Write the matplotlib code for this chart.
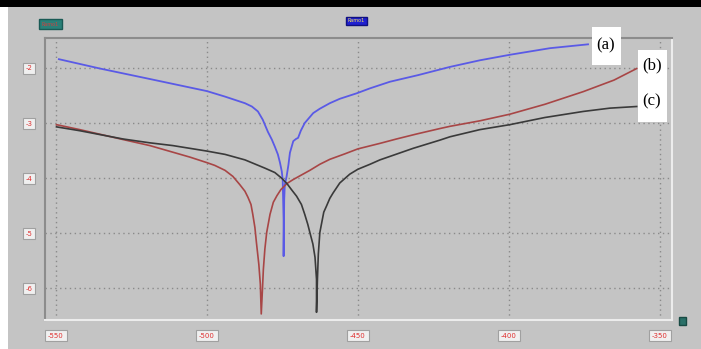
import numpy as np
import matplotlib.pyplot as plt
from matplotlib.patches import Rectangle

# curve (a) - blue
xa = [-549.0, -535.4, -518.9, -500.0, -494.0, -487.4, -485.1, -483.1, -481.5, -479.8,
      -478.5, -477.5, -476.5, -475.8, -475.2, -474.9, -474.6, -474.6, -474.4, -474.2,
      -473.6, -473.0, -472.5, -471.4, -470.5, -469.8, -468.9, -467.6, -464.8, -462.6,
      -459.3, -456.0, -450.4, -446.0, -439.4, -430.1, -419.5, -409.6, -399.7, -386.4,
      -373.8]
ya = [-1.84, -2.01, -2.20, -2.42, -2.52, -2.64, -2.70, -2.79, -2.94, -3.16,
      -3.30, -3.43, -3.57, -3.72, -3.88, -4.03, -4.75, -5.42, -4.39, -4.12,
      -3.97, -3.76, -3.54, -3.33, -3.29, -3.27, -3.14, -3.00, -2.82, -2.74,
      -2.64, -2.56, -2.46, -2.37, -2.25, -2.13, -1.98, -1.86, -1.76, -1.64,
      -1.57]

# curve (b) - red
xb = [-549.8, -542.1, -527.8, -518.9, -511.3, -505.6, -500.0, -497.4, -494.0, -491.4,
      -489.1, -487.4, -486.4, -485.4, -484.8, -484.1, -483.6, -482.8, -482.3, -482.0,
      -481.6, -481.3, -480.8, -480.2, -479.1, -478.0, -476.8, -475.5, -473.5, -471.5,
      -469.2, -465.9, -462.6, -459.3, -454.3, -450.0, -442.7, -437.2, -430.6, -422.8,
      -419.5, -409.6, -399.7, -388.1, -375.4, -365.2, -357.7]
yb = [-3.03, -3.12, -3.30, -3.41, -3.53, -3.62, -3.72, -3.77, -3.86, -3.97,
      -4.12, -4.24, -4.35, -4.48, -4.66, -4.90, -5.17, -5.57, -5.93, -6.47,
      -6.02, -5.66, -5.29, -4.99, -4.66, -4.44, -4.32, -4.21, -4.10, -4.03,
      -3.96, -3.86, -3.75, -3.66, -3.56, -3.47, -3.37, -3.29, -3.20, -3.10,
      -3.06, -2.96, -2.84, -2.66, -2.43, -2.22, -2.01]

# curve (c) - black
xc = [-549.8, -542.1, -527.8, -518.9, -511.3, -500.0, -494.0, -487.4, -480.8, -477.5,
      -475.3, -473.5, -472.0, -470.3, -468.7, -467.6, -466.6, -465.9, -464.9, -464.2,
      -463.7, -463.7, -463.4, -463.1, -462.6, -461.9, -461.3, -460.4, -459.3, -458.2,
      -456.0, -452.7, -450.0, -446.0, -442.7, -431.7, -422.8, -419.5, -409.6, -399.7,
      -388.1, -375.4, -366.6, -357.7]
yc = [-3.07, -3.14, -3.29, -3.36, -3.41, -3.51, -3.57, -3.67, -3.82, -3.90,
      -4.00, -4.10, -4.21, -4.33, -4.48, -4.66, -4.84, -4.99, -5.20, -5.44,
      -5.84, -6.44, -5.84, -5.38, -4.99, -4.79, -4.62, -4.51, -4.37, -4.27,
      -4.09, -3.93, -3.84, -3.75, -3.67, -3.46, -3.31, -3.25, -3.12, -3.03,
      -2.90, -2.79, -2.73, -2.70]

xticks = [-550, -500, -450, -400, -350]
yticks = [-2, -3, -4, -5, -6]

W, H = 701, 349
bg = '#c4c4c4'
fig = plt.figure(figsize=(W / 100, H / 100), dpi=100, facecolor=bg)

def fx(px):
    return px / W

def fy(py):
    return 1 - py / H

# black strip on top, white strip at left
fig.patches.append(Rectangle((0, fy(7)), 1, 7 / H, transform=fig.transFigure,
                             facecolor='black', edgecolor='none'))
fig.patches.append(Rectangle((0, 0), fx(8), fy(7), transform=fig.transFigure,
                             facecolor='white', edgecolor='none'))

ax = fig.add_axes([fx(45), fy(320), fx(672) - fx(45), fy(38) - fy(320)])
ax.set_facecolor(bg)
ax.plot(xa, ya, color='#5a5ae6', lw=1.3)
ax.plot(xb, yb, color='#a84646', lw=1.2)
ax.plot(xc, yc, color='#3a3a3a', lw=1.2)

ax.set_xlim(-553.6, -346.0)
ax.set_ylim(-6.58, -1.455)
ax.set_xticks(xticks)
ax.set_yticks(yticks)
ax.set_xticklabels([str(t) for t in xticks])
ax.set_yticklabels([str(t) for t in yticks])
ax.grid(True, color='#8a8a8a', ls=(0, (1, 2.5)), lw=1)
ax.tick_params(length=0, labelsize=5, labelcolor='#e03030')
ax.tick_params(axis='x', pad=9)
ax.tick_params(axis='y', pad=9)
for lbl in ax.get_xticklabels() + ax.get_yticklabels():
    lbl.set_bbox(dict(boxstyle='square,pad=0.4', facecolor='#f0f0f0',
                      edgecolor='#a0a0a0', lw=0.8))

for s in ['top', 'left']:
    ax.spines[s].set_color('#8c8c8c')
    ax.spines[s].set_linewidth(1.5)
for s in ['bottom', 'right']:
    ax.spines[s].set_color('#ececec')
    ax.spines[s].set_linewidth(1.5)

# legend-like boxes of the software
fig.text(fx(50.5), fy(24), 'Ramo1', fontsize=3.5, color='#d04040', ha='center', va='center',
         bbox=dict(boxstyle='square,pad=0.5', facecolor='#2a8078', edgecolor='#1a5a55'))
fig.text(fx(356.5), fy(21), 'Ramo1', fontsize=3.5, color='#f0e060', ha='center', va='center',
         bbox=dict(boxstyle='square,pad=0.4', facecolor='#2020d0', edgecolor='#101080'))
fig.patches.append(Rectangle((fx(679), fy(325)), 7 / W, 8 / H, transform=fig.transFigure,
                             facecolor='#2a7068', edgecolor='#184a44'))

# curve labels
fig.patches.append(Rectangle((fx(592), fy(65)), 29 / W, 38 / H, transform=fig.transFigure,
                             facecolor='white', edgecolor='none'))
fig.patches.append(Rectangle((fx(638), fy(122)), 29 / W, 72 / H, transform=fig.transFigure,
                             facecolor='white', edgecolor='none'))
serif = ['Liberation Serif', 'DejaVu Serif']
fig.text(fx(606), fy(45), '(a)', fontsize=12, family=serif, ha='center', va='center')
fig.text(fx(652), fy(65), '(b)', fontsize=12, family=serif, ha='center', va='center')
fig.text(fx(652), fy(101), '(c)', fontsize=12, family=serif, ha='center', va='center')

fig.savefig('out.png', dpi=100, facecolor=bg)
